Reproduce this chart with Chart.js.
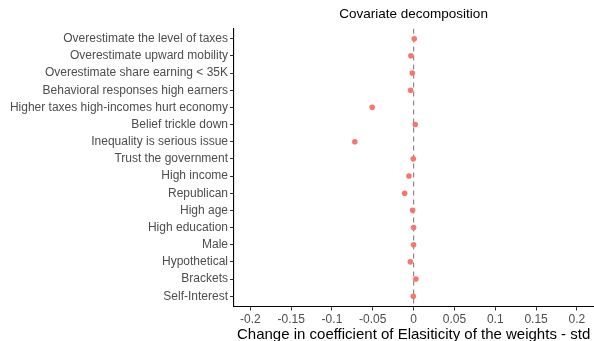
<!DOCTYPE html>
<html>
<head>
<meta charset="utf-8">
<script src="https://cdn.jsdelivr.net/npm/chart.js@4/dist/chart.umd.min.js"></script>
<style>
  html, body { margin: 0; padding: 0; background: #fff; overflow: hidden; }
  #wrap { width: 594px; height: 341px; overflow: hidden; }
  canvas { display: block; }
</style>
</head>
<body>
<div id="wrap"><canvas id="c" width="596" height="341"></canvas></div>
<script>
// Covariates, listed top to bottom
const categories = [
  "Overestimate the level of taxes",
  "Overestimate upward mobility",
  "Overestimate share earning < 35K",
  "Behavioral responses high earners",
  "Higher taxes high-incomes hurt economy",
  "Belief trickle down",
  "Inequality is serious issue",
  "Trust the government",
  "High income",
  "Republican",
  "High age",
  "High education",
  "Male",
  "Hypothetical",
  "Brackets",
  "Self-Interest"
];

// Change in the elasticity coefficient for each covariate
const changes = [
  0.0008, -0.0033, -0.0016, -0.0036, -0.0507, 0.0020, -0.0720, -0.0004,
  -0.0057, -0.0110, -0.0012, 0.0000, 0.0000, -0.0040, 0.0028, -0.0004
];

const xTicks = [-0.2, -0.15, -0.1, -0.05, 0, 0.05, 0.1, 0.15, 0.2];
const xLimits = [-0.22, 0.22];
const yLimits = [0.4, categories.length + 0.6];

const FONT = "'Liberation Sans', Arial, Helvetica, sans-serif";

const points = categories.map((c, i) => ({ x: changes[i], y: i + 1 }));
const zeroLine = [{ x: 0, y: yLimits[0] }, { x: 0, y: yLimits[1] }];

// Centred heading over the plotting panel
const panelTitle = {
  id: 'panelTitle',
  afterDraw(chart) {
    const { ctx, chartArea } = chart;
    ctx.save();
    ctx.font = `13.5px ${FONT}`;
    ctx.fillStyle = '#000';
    ctx.textAlign = 'center';
    ctx.textBaseline = 'middle';
    ctx.fillText('Covariate decomposition', (chartArea.left + chartArea.right) / 2, 14);
    ctx.restore();
  }
};

new Chart(document.getElementById('c'), {
  type: 'scatter',
  data: {
    datasets: [
      {
        data: points,
        backgroundColor: '#F8766D',
        borderWidth: 0,
        pointRadius: 2.8,
        pointHoverRadius: 2.8
      },
      {
        data: zeroLine,
        showLine: true,
        borderColor: '#8a8a8a',
        borderWidth: 1.2,
        borderDash: [5, 4],
        pointRadius: 0,
        pointHoverRadius: 0
      }
    ]
  },
  options: {
    responsive: false,
    animation: false,
    layout: { padding: { top: 28.4, left: 0, right: 0, bottom: 0 } },
    plugins: {
      legend: { display: false },
      tooltip: { enabled: false }
    },
    scales: {
      x: {
        type: 'linear',
        min: xLimits[0],
        max: xLimits[1],
        afterBuildTicks(scale) {
          scale.ticks = xTicks.map(v => ({ value: v }));
        },
        afterFit(scale) { scale.height = 34.5; },
        grid: {
          drawOnChartArea: false,
          drawTicks: true,
          tickLength: 4,
          tickColor: '#333',
          tickWidth: 1
        },
        border: { display: true, color: '#000', width: 1.1 },
        ticks: {
          color: '#4d4d4d',
          font: { family: FONT, size: 12 },
          padding: 2,
          maxRotation: 0,
          autoSkip: false,
          callback: v => String(Math.round(v * 100) / 100)
        },
        title: {
          display: true,
          text: 'Change in coefficient of Elasiticity of the weights - std',
          color: '#000',
          font: { family: FONT, size: 15, lineHeight: 1 },
          padding: { top: 0, bottom: -1.5 }
        }
      },
      y: {
        type: 'linear',
        reverse: true,
        min: yLimits[0],
        max: yLimits[1],
        afterBuildTicks(scale) {
          scale.ticks = categories.map((c, i) => ({ value: i + 1 }));
        },
        afterFit(scale) { scale.width = 234; },
        grid: {
          drawOnChartArea: false,
          drawTicks: true,
          tickLength: 4,
          tickColor: '#333',
          tickWidth: 1
        },
        border: { display: true, color: '#000', width: 1.1 },
        ticks: {
          color: '#4d4d4d',
          font: { family: FONT, size: 12 },
          padding: 2,
          autoSkip: false,
          callback: v => categories[v - 1]
        }
      }
    }
  },
  plugins: [panelTitle]
});
</script>
</body>
</html>
